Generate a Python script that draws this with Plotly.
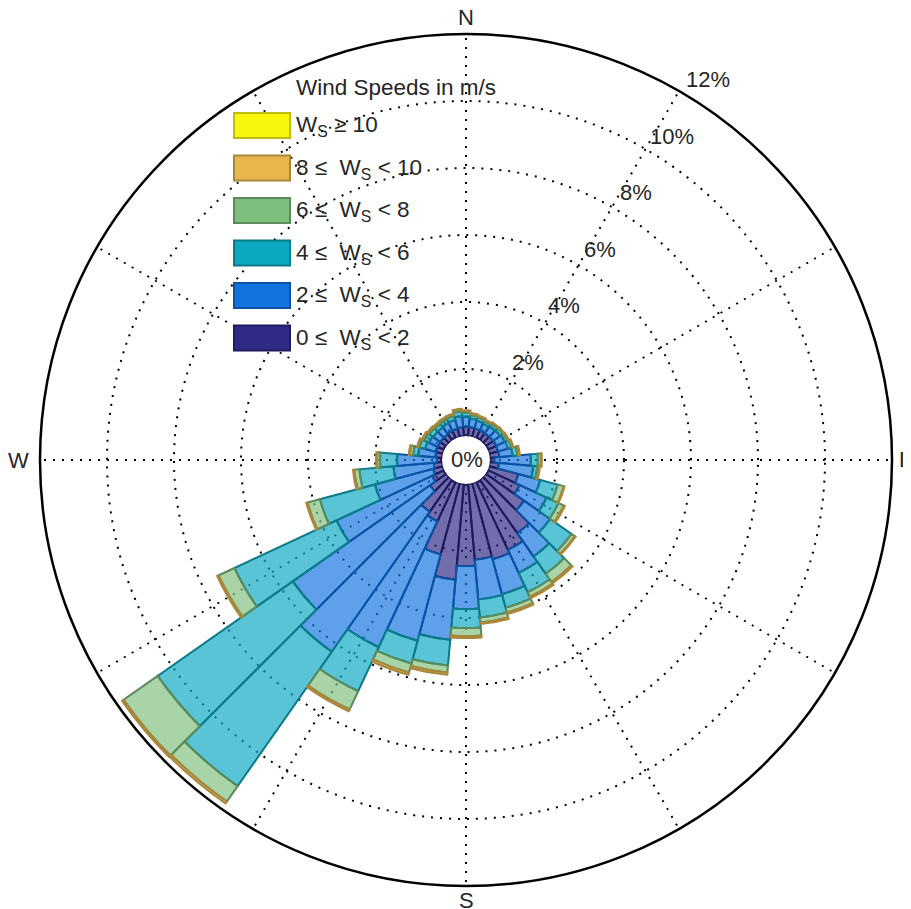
import plotly.graph_objects as go
import math

# ---------------- data ----------------
directions = [0, 10, 20, 30, 40, 50, 60, 70, 80, 90, 100, 110, 120, 130, 140, 150, 160, 170,
              180, 190, 200, 210, 220, 230, 240, 250, 260, 270, 280, 290, 300, 310, 320, 330, 340, 350]

# frequency (%) of each wind-speed class per direction
ws_0_2 = [0.28, 0.27, 0.26, 0.25, 0.26, 0.27, 0.27, 0.27, 0.28, 0.13, 0.27, 0.90, 1.05, 1.40, 1.95, 2.24, 2.35, 2.27,
          2.45, 2.87, 2.20, 1.30, 1.17, 0.60, 0.40, 0.30, 0.25, 0.15, 0.20, 0.22, 0.22, 0.22, 0.22, 0.24, 0.25, 0.27]
ws_2_4 = [0.30, 0.26, 0.24, 0.23, 0.25, 0.26, 0.29, 0.31, 0.40, 1.09, 1.03, 0.68, 0.89, 0.95, 0.85, 0.76, 1.08, 1.19,
          1.28, 1.80, 2.67, 4.15, 5.10, 5.00, 3.15, 1.80, 1.21, 1.19, 0.52, 0.33, 0.28, 0.26, 0.26, 0.26, 0.27, 0.33]
ws_4_6 = [0.12, 0.10, 0.10, 0.09, 0.10, 0.10, 0.09, 0.11, 0.14, 0.21, 0.12, 0.54, 0.39, 0.78, 0.63, 0.64, 0.42, 0.54,
          0.57, 0.77, 0.70, 1.45, 4.90, 4.92, 3.36, 1.70, 1.02, 0.51, 0.15, 0.17, 0.16, 0.14, 0.12, 0.12, 0.13, 0.14]
ws_6_8 = [0.05, 0.04, 0.04, 0.03, 0.03, 0.03, 0.03, 0.04, 0.06, 0.09, 0.06, 0.18, 0.17, 0.12, 0.30, 0.15, 0.15, 0.15,
          0.24, 0.21, 0.28, 0.60, 0.56, 1.24, 0.52, 0.38, 0.15, 0.09, 0.10, 0.06, 0.06, 0.06, 0.06, 0.06, 0.05, 0.06]
ws_8_10 = [0.02, 0.02, 0.02, 0.02, 0.02, 0.02, 0.02, 0.02, 0.02, 0.03, 0.02, 0.03, 0.04, 0.03, 0.05, 0.05, 0.05, 0.05,
           0.06, 0.07, 0.07, 0.06, 0.07, 0.06, 0.05, 0.04, 0.04, 0.03, 0.03, 0.02, 0.02, 0.02, 0.02, 0.02, 0.02, 0.02]
ws_10_up = [None] * 36  # no measurable share at or above 10 m/s

class_values = [ws_0_2, ws_2_4, ws_4_6, ws_6_8, ws_8_10, ws_10_up]
class_labels = ["0 \u2264&nbsp; W<sub>S</sub> &lt; 2", "2 \u2264&nbsp; W<sub>S</sub> &lt; 4",
                "4 \u2264&nbsp; W<sub>S</sub> &lt; 6", "6 \u2264&nbsp; W<sub>S</sub> &lt; 8",
                "8 \u2264&nbsp; W<sub>S</sub> &lt; 10", "W<sub>S</sub> \u2265 10"]
fill_rgb = [(47, 42, 134), (17, 115, 223), (11, 168, 193), (127, 191, 125), (233, 182, 76), (247, 247, 14)]
edge_rgb = [(31, 28, 94), (11, 82, 163), (11, 122, 137), (91, 138, 91), (168, 135, 58), (189, 189, 16)]

radial_ticks = [2, 4, 6, 8, 10, 12]
radial_text = ["2%", "4%", "6%", "8%", "10%", "12%"]
angle_ticks = [0, 30, 60, 90, 120, 150, 180, 210, 240, 270, 300, 330]
cardinal_angles = [0, 90, 180, 270]
cardinal_text = ["N", "E", "S", "W"]

# ---------------- layout geometry (figure pixels) ----------------
W, H = 911, 909
cx, cy, R = 458, 452, 426          # polar centre and outer radius
hole = 24 / R
FONT = "Liberation Sans, Arial, Helvetica, sans-serif"
TXT = "#262626"
GRID = dict(gridcolor="black", gridwidth=2.3, griddash="2px,7px")

fig = go.Figure()
for vals, lab, fc, ec in zip(class_values, class_labels, fill_rgb, edge_rgb):
    fig.add_trace(go.Barpolar(
        r=vals, theta=directions, width=10, name=lab, showlegend=False,
        marker=dict(color="rgba(%d,%d,%d,0.68)" % fc,
                    line=dict(color="rgb(%d,%d,%d)" % ec, width=2)),
    ))

def px_to_paper(x, y):
    return x / W, 1 - y / H

annotations = []
# radial tick labels, placed just outside each ring along the 32.5 deg direction
a = math.radians(32.5)
for k, t in zip(radial_ticks, radial_text):
    rk = R * (hole + (1 - hole) * k / 12) + 25
    px, py = px_to_paper(cx + rk * math.sin(a), cy - rk * math.cos(a))
    annotations.append(dict(x=px, y=py, xref="paper", yref="paper", text=t, showarrow=False,
                            font=dict(family=FONT, size=22, color=TXT), xanchor="center", yanchor="middle"))
px, py = px_to_paper(cx + 1, cy)
annotations.append(dict(x=px, y=py, xref="paper", yref="paper", text="0%", showarrow=False,
                        font=dict(family=FONT, size=22, color=TXT), xanchor="center", yanchor="middle"))

# cardinal direction labels
card_offset = {0: 16, 90: 14, 180: 14, 270: 22}
for ang, t in zip(cardinal_angles, cardinal_text):
    rr = R + card_offset[ang]
    th = math.radians(ang)
    px, py = px_to_paper(cx + rr * math.sin(th), cy - rr * math.cos(th))
    annotations.append(dict(x=px, y=py, xref="paper", yref="paper", text=t, showarrow=False,
                            font=dict(family=FONT, size=22, color=TXT), xanchor="center", yanchor="middle"))

# outer circle
shapes = []
x0, y0 = px_to_paper(cx - R, cy + R)
x1, y1 = px_to_paper(cx + R, cy - R)
shapes.append(dict(type="circle", xref="paper", yref="paper", x0=x0, x1=x1, y0=y0, y1=y1,
                   line=dict(color="black", width=2.5), fillcolor="rgba(0,0,0,0)", layer="above"))

# legend (drawn manually to match swatch size)
leg_x0, leg_x1 = 226, 282
row_y = [117.5, 160, 202.5, 245, 287.5, 330]
order = list(range(len(class_labels)))[::-1]
for i, ci in enumerate(order):
    yc = row_y[i]
    x0, y0 = px_to_paper(leg_x0, yc + 12.5)
    x1, y1 = px_to_paper(leg_x1, yc - 12.5)
    shapes.append(dict(type="rect", xref="paper", yref="paper", x0=x0, x1=x1, y0=y0, y1=y1,
                       fillcolor="rgb(%d,%d,%d)" % fill_rgb[ci],
                       line=dict(color="rgb(%d,%d,%d)" % edge_rgb[ci], width=2)))
    tx, ty = px_to_paper(286, yc + 1)
    annotations.append(dict(x=tx, y=ty, xref="paper", yref="paper", text=class_labels[ci], showarrow=False,
                            font=dict(family=FONT, size=22.5, color=TXT), xanchor="left", yanchor="middle"))
tx, ty = px_to_paper(286, 80)
annotations.append(dict(x=tx, y=ty, xref="paper", yref="paper", text="Wind Speeds in m/s", showarrow=False,
                        font=dict(family=FONT, size=22.5, color=TXT), xanchor="left", yanchor="middle"))

fig.update_layout(
    width=W, height=H, margin=dict(l=0, r=0, t=0, b=0),
    paper_bgcolor="white", plot_bgcolor="white",
    font=dict(family=FONT, size=22, color=TXT),
    showlegend=False,
    polar=dict(
        domain=dict(x=[(cx - R) / W, (cx + R) / W], y=[1 - (cy + R) / H, 1 - (cy - R) / H]),
        bgcolor="white", hole=hole, barmode="stack",
        radialaxis=dict(range=[0, 12], tickvals=radial_ticks, showticklabels=False, ticks="",
                        showline=False, showgrid=True, layer="above traces", **GRID),
        angularaxis=dict(rotation=90, direction="clockwise", tickvals=angle_ticks,
                         showticklabels=False, ticks="", showline=False,
                         showgrid=True, layer="above traces", **GRID),
    ),
    annotations=annotations, shapes=shapes,
)

fig.write_html("out.html")
